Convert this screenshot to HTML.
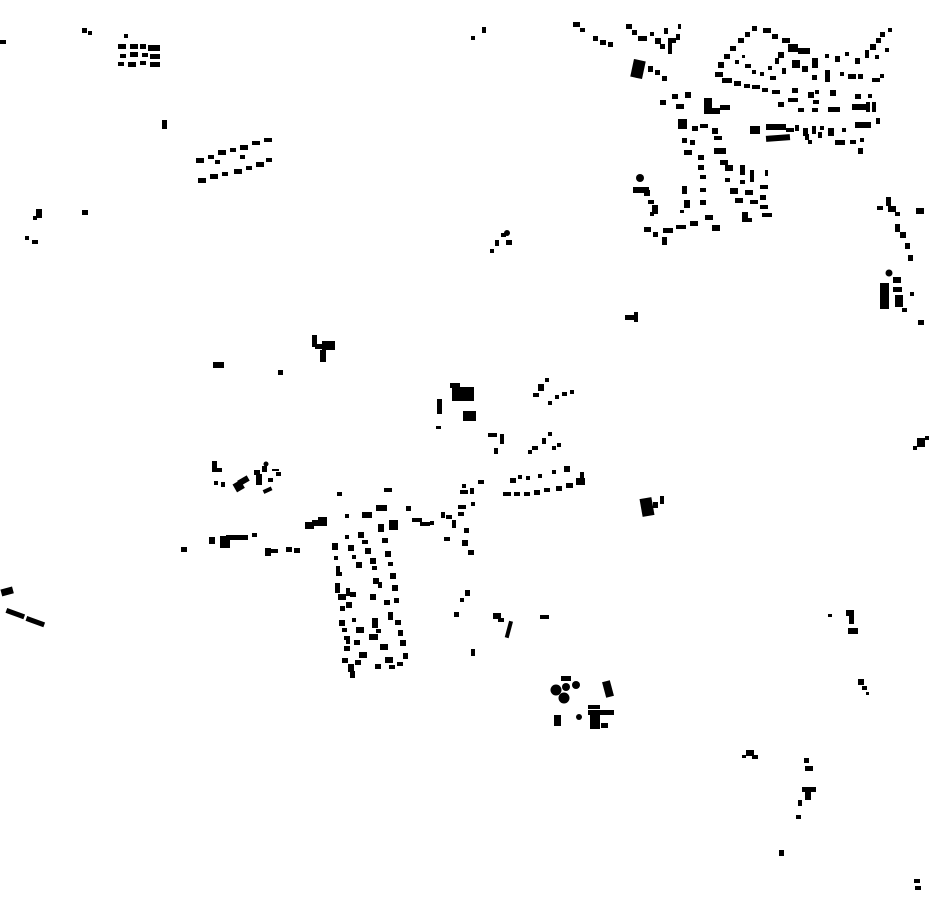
<!DOCTYPE html>
<html><head><meta charset="utf-8"><style>html,body{margin:0;padding:0;background:#fff}svg{display:block}</style></head>
<body>
<svg width="930" height="924" viewBox="0 0 930 924" xmlns="http://www.w3.org/2000/svg">
<g fill="#000">
<!-- top left -->
<rect x="0" y="40" width="6" height="4"/>
<rect x="82" y="28" width="5" height="5"/><rect x="88" y="31" width="4" height="4"/>
<rect x="124" y="34" width="4" height="4"/><rect x="118" y="44" width="8" height="5"/><rect x="130" y="44" width="8" height="5"/><rect x="140" y="44" width="6" height="5"/><rect x="148" y="45" width="12" height="6"/><rect x="120" y="54" width="6" height="4"/><rect x="130" y="52" width="8" height="5"/><rect x="142" y="53" width="6" height="4"/><rect x="150" y="54" width="10" height="5"/><rect x="118" y="62" width="6" height="4"/><rect x="128" y="62" width="8" height="5"/><rect x="140" y="61" width="6" height="4"/><rect x="150" y="62" width="10" height="5"/>
<rect x="162" y="120" width="5" height="9"/>
<rect x="196" y="158" width="8" height="5"/><rect x="208" y="155" width="6" height="4"/><rect x="218" y="150" width="8" height="5"/><rect x="230" y="148" width="6" height="4"/><rect x="240" y="145" width="8" height="5"/><rect x="252" y="141" width="8" height="4"/><rect x="264" y="138" width="8" height="4"/>
<rect x="198" y="178" width="8" height="5"/><rect x="210" y="174" width="8" height="5"/><rect x="222" y="172" width="6" height="4"/><rect x="234" y="169" width="8" height="5"/><rect x="246" y="166" width="6" height="4"/><rect x="256" y="162" width="8" height="5"/><rect x="266" y="158" width="6" height="4"/><rect x="215" y="160" width="5" height="4"/><rect x="240" y="155" width="5" height="4"/>
<rect x="36" y="209" width="6" height="9"/><rect x="33" y="216" width="4" height="4"/>
<rect x="82" y="210" width="6" height="5"/>
<rect x="25" y="236" width="4" height="4"/><rect x="32" y="240" width="6" height="4"/>
<rect x="471" y="36" width="4" height="4"/><rect x="482" y="27" width="4" height="6"/>
<rect x="495" y="240" width="4" height="6"/><rect x="501" y="233" width="5" height="4"/><circle cx="507" cy="233" r="3"/><rect x="506" y="240" width="6" height="5"/><rect x="490" y="249" width="4" height="4"/>
<rect x="625" y="315" width="10" height="5"/><rect x="634" y="312" width="4" height="10"/>
<rect x="213" y="362" width="11" height="6"/><rect x="278" y="370" width="5" height="5"/>
<rect x="312" y="335" width="5" height="12"/><rect x="315" y="344" width="8" height="5"/><rect x="322" y="341" width="13" height="9"/><rect x="320" y="350" width="6" height="12"/>
<!-- top right -->
<rect x="573" y="22" width="7" height="5"/><rect x="580" y="28" width="5" height="4"/><rect x="593" y="36" width="5" height="5"/><rect x="600" y="40" width="6" height="5"/><rect x="608" y="42" width="5" height="5"/>
<rect x="626" y="24" width="6" height="5"/><rect x="632" y="30" width="5" height="5"/><rect x="638" y="36" width="9" height="5"/><rect x="650" y="32" width="4" height="4"/><rect x="655" y="38" width="6" height="6"/><rect x="660" y="44" width="5" height="5"/><rect x="664" y="28" width="4" height="6"/><rect x="668" y="38" width="8" height="5"/><rect x="668" y="42" width="4" height="12"/><rect x="676" y="34" width="4" height="6"/><rect x="678" y="24" width="3" height="5"/>
<rect x="632" y="60" width="12" height="18" transform="rotate(12 638 69)"/><rect x="648" y="66" width="5" height="6"/><rect x="655" y="70" width="5" height="5"/><rect x="662" y="76" width="5" height="5"/>
<rect x="660" y="100" width="6" height="5"/><rect x="672" y="94" width="6" height="5"/><rect x="685" y="92" width="6" height="6"/><rect x="676" y="104" width="8" height="5"/><rect x="704" y="98" width="8" height="16"/><rect x="704" y="108" width="16" height="6"/><rect x="720" y="105" width="10" height="5"/>
<rect x="678" y="119" width="9" height="10"/><rect x="692" y="126" width="6" height="5"/><rect x="682" y="138" width="5" height="5"/>
<rect x="700" y="124" width="8" height="4"/><rect x="712" y="128" width="6" height="6"/><rect x="714" y="136" width="8" height="4"/><rect x="714" y="148" width="12" height="6"/><rect x="720" y="160" width="8" height="5"/>
<rect x="684" y="150" width="8" height="5"/><rect x="690" y="140" width="5" height="5"/>
<rect x="698" y="155" width="6" height="5"/><rect x="698" y="165" width="6" height="5"/><rect x="700" y="175" width="6" height="4"/><rect x="700" y="188" width="6" height="4"/><rect x="700" y="200" width="6" height="5"/><rect x="705" y="215" width="8" height="5"/><rect x="712" y="225" width="8" height="6"/>
<rect x="725" y="165" width="8" height="6"/><rect x="725" y="178" width="5" height="4"/><rect x="730" y="188" width="8" height="6"/><rect x="735" y="198" width="8" height="5"/><rect x="742" y="212" width="6" height="6"/><rect x="740" y="165" width="5" height="10"/><rect x="750" y="170" width="4" height="12"/>
<rect x="740" y="180" width="5" height="4"/><rect x="745" y="190" width="8" height="5"/><rect x="750" y="200" width="8" height="4"/><rect x="742" y="218" width="10" height="4"/>
<rect x="760" y="185" width="8" height="4"/><rect x="760" y="195" width="6" height="5"/><rect x="760" y="205" width="8" height="4"/><rect x="762" y="213" width="10" height="4"/><rect x="765" y="170" width="3" height="6"/>
<rect x="682" y="186" width="5" height="8"/><rect x="684" y="200" width="6" height="8"/><rect x="680" y="210" width="4" height="3"/>
<circle cx="640" cy="178" r="4"/><rect x="633" y="187" width="16" height="6"/><rect x="644" y="190" width="6" height="6"/><rect x="648" y="200" width="6" height="4"/><rect x="652" y="205" width="6" height="9"/><rect x="650" y="212" width="4" height="4"/>
<rect x="644" y="227" width="7" height="5"/><rect x="653" y="232" width="5" height="5"/><rect x="663" y="228" width="10" height="5"/><rect x="676" y="225" width="10" height="4"/><rect x="690" y="221" width="8" height="5"/><rect x="662" y="237" width="5" height="8"/>
<rect x="715" y="72" width="8" height="5"/><rect x="718" y="62" width="6" height="6"/><rect x="724" y="54" width="6" height="5"/><rect x="730" y="46" width="6" height="5"/><rect x="738" y="38" width="6" height="5"/><rect x="745" y="32" width="5" height="5"/><rect x="752" y="26" width="5" height="5"/>
<rect x="763" y="28" width="8" height="5"/><rect x="772" y="34" width="6" height="5"/><rect x="782" y="38" width="8" height="5"/><rect x="788" y="44" width="10" height="8"/><rect x="798" y="48" width="12" height="6"/><rect x="778" y="52" width="6" height="6"/><rect x="792" y="60" width="8" height="8"/><rect x="802" y="66" width="6" height="6"/>
<rect x="735" y="60" width="4" height="4"/><rect x="742" y="55" width="3" height="3"/><rect x="745" y="64" width="6" height="4"/><rect x="752" y="70" width="4" height="4"/><rect x="760" y="72" width="4" height="4"/><rect x="768" y="66" width="4" height="4"/><rect x="770" y="76" width="6" height="4"/><rect x="775" y="58" width="4" height="6"/><rect x="782" y="68" width="4" height="6"/>
<rect x="722" y="78" width="10" height="5"/><rect x="734" y="81" width="7" height="5"/><rect x="744" y="84" width="6" height="4"/><rect x="752" y="85" width="8" height="4"/><rect x="762" y="88" width="6" height="4"/><rect x="772" y="90" width="8" height="4"/>
<rect x="812" y="58" width="6" height="10"/><rect x="825" y="54" width="4" height="4"/><rect x="835" y="56" width="5" height="6"/><rect x="845" y="52" width="4" height="4"/><rect x="855" y="58" width="5" height="6"/><rect x="865" y="50" width="4" height="8"/><rect x="870" y="44" width="6" height="6"/><rect x="876" y="38" width="5" height="5"/><rect x="880" y="32" width="5" height="5"/><rect x="888" y="28" width="4" height="4"/><rect x="885" y="48" width="4" height="4"/><rect x="875" y="55" width="4" height="4"/>
<rect x="812" y="75" width="5" height="5"/><rect x="825" y="70" width="5" height="12"/><rect x="840" y="72" width="4" height="4"/><rect x="848" y="74" width="8" height="5"/><rect x="858" y="74" width="5" height="5"/><rect x="872" y="78" width="8" height="4"/><rect x="880" y="74" width="4" height="4"/>
<rect x="792" y="88" width="6" height="5"/><rect x="808" y="92" width="6" height="6"/><rect x="815" y="90" width="4" height="4"/><rect x="830" y="90" width="6" height="6"/><rect x="855" y="94" width="6" height="5"/><rect x="868" y="94" width="4" height="4"/>
<rect x="788" y="98" width="10" height="4"/><rect x="813" y="100" width="6" height="4"/><rect x="812" y="108" width="6" height="4"/><rect x="828" y="107" width="12" height="5"/><rect x="852" y="104" width="14" height="6"/><rect x="866" y="102" width="4" height="10"/><rect x="872" y="102" width="4" height="10"/>
<rect x="778" y="102" width="6" height="5"/><rect x="798" y="108" width="6" height="4"/>
<rect x="750" y="126" width="10" height="8"/><rect x="766" y="124" width="20" height="6"/><rect x="766" y="135" width="24" height="6" transform="rotate(-4 778 138)"/><rect x="786" y="128" width="8" height="4"/><rect x="795" y="125" width="4" height="6"/><rect x="803" y="128" width="5" height="8"/><rect x="812" y="126" width="4" height="8"/><rect x="820" y="126" width="4" height="4"/><rect x="828" y="128" width="6" height="8"/><rect x="842" y="128" width="4" height="4"/><rect x="855" y="122" width="16" height="6"/><rect x="876" y="118" width="4" height="6"/>
<rect x="835" y="140" width="10" height="5"/><rect x="850" y="140" width="6" height="4"/><rect x="860" y="138" width="4" height="4"/><rect x="858" y="148" width="5" height="6"/><rect x="805" y="134" width="4" height="6"/><rect x="808" y="140" width="4" height="4"/><rect x="818" y="132" width="4" height="6"/>
<rect x="877" y="206" width="6" height="4"/><rect x="886" y="197" width="5" height="9"/><rect x="888" y="206" width="8" height="6"/><rect x="895" y="212" width="5" height="4"/><rect x="916" y="208" width="8" height="6"/><rect x="895" y="224" width="5" height="8"/><rect x="900" y="232" width="6" height="6"/><rect x="905" y="243" width="5" height="6"/><rect x="908" y="255" width="5" height="6"/>
<circle cx="889" cy="273" r="3.5"/><rect x="880" y="283" width="9" height="26"/><rect x="893" y="277" width="8" height="6"/><rect x="893" y="287" width="9" height="5"/><rect x="895" y="295" width="8" height="12"/><rect x="910" y="292" width="4" height="4"/><rect x="918" y="320" width="6" height="5"/><rect x="902" y="308" width="5" height="4"/>
<!-- middle -->
<rect x="450" y="383" width="10" height="5"/><rect x="452" y="387" width="22" height="14"/><rect x="437" y="399" width="5" height="15"/><rect x="463" y="411" width="13" height="10"/><rect x="436" y="426" width="5" height="3"/>
<rect x="538" y="384" width="6" height="7"/><rect x="545" y="378" width="4" height="4"/><rect x="533" y="393" width="6" height="4"/><rect x="555" y="395" width="4" height="4"/><rect x="562" y="392" width="5" height="4"/><rect x="570" y="390" width="4" height="4"/><rect x="548" y="401" width="4" height="4"/>
<rect x="488" y="433" width="9" height="4"/><rect x="500" y="434" width="4" height="10"/><rect x="494" y="448" width="4" height="6"/><rect x="548" y="432" width="4" height="4"/><rect x="542" y="438" width="4" height="6"/><rect x="532" y="446" width="6" height="4"/><rect x="528" y="450" width="4" height="4"/><rect x="552" y="446" width="4" height="4"/><rect x="557" y="443" width="4" height="4"/>
<rect x="510" y="478" width="6" height="5"/><rect x="518" y="475" width="4" height="4"/><rect x="526" y="476" width="4" height="4"/><rect x="538" y="474" width="4" height="4"/><rect x="552" y="470" width="4" height="4"/><rect x="564" y="466" width="6" height="6"/><rect x="580" y="472" width="4" height="6"/>
<rect x="503" y="492" width="8" height="4"/><rect x="514" y="492" width="6" height="4"/><rect x="524" y="492" width="6" height="4"/><rect x="534" y="490" width="6" height="5"/><rect x="544" y="488" width="6" height="4"/><rect x="556" y="486" width="6" height="5"/><rect x="566" y="483" width="7" height="5"/><rect x="576" y="478" width="9" height="7"/>
<rect x="212" y="461" width="5" height="11"/><rect x="216" y="468" width="6" height="4"/><rect x="214" y="481" width="4" height="4"/><rect x="221" y="482" width="4" height="5"/><rect x="234" y="482" width="9" height="9" transform="rotate(-30 238 486)"/><rect x="238" y="478" width="11" height="6" transform="rotate(-30 243 481)"/><rect x="254" y="470" width="6" height="5"/><rect x="256" y="474" width="6" height="11"/><rect x="262" y="466" width="5" height="6"/><rect x="268" y="478" width="5" height="4"/><rect x="263" y="488" width="9" height="4" transform="rotate(-25 268 490)"/><rect x="276" y="472" width="5" height="4"/><circle cx="266" cy="464" r="2.5"/><rect x="272" y="469" width="7" height="2"/>
<rect x="181" y="547" width="6" height="5"/><rect x="209" y="537" width="6" height="7"/><rect x="220" y="536" width="10" height="12"/><rect x="226" y="535" width="22" height="5"/><rect x="252" y="533" width="5" height="4"/>
<rect x="265" y="548" width="6" height="8"/><rect x="270" y="549" width="8" height="4"/><rect x="286" y="547" width="6" height="5"/><rect x="294" y="548" width="6" height="5"/>
<rect x="305" y="522" width="9" height="7"/><rect x="312" y="520" width="6" height="6"/><rect x="318" y="517" width="9" height="9"/>
<rect x="337" y="492" width="5" height="4"/><rect x="345" y="514" width="4" height="4"/><rect x="362" y="512" width="10" height="6"/><rect x="376" y="505" width="11" height="6"/><rect x="389" y="520" width="9" height="10"/><rect x="384" y="488" width="8" height="4"/><rect x="406" y="506" width="5" height="5"/><rect x="412" y="518" width="10" height="4"/><rect x="420" y="522" width="10" height="4"/><rect x="430" y="521" width="4" height="4"/><rect x="441" y="512" width="4" height="6"/><rect x="446" y="515" width="6" height="4"/><rect x="444" y="537" width="6" height="4"/><rect x="452" y="520" width="4" height="8"/>
<rect x="462" y="484" width="4" height="4"/><rect x="460" y="490" width="8" height="4"/><rect x="470" y="488" width="4" height="6"/><rect x="478" y="480" width="6" height="4"/><rect x="458" y="505" width="8" height="4"/><rect x="458" y="512" width="6" height="4"/><rect x="471" y="502" width="4" height="4"/>
<rect x="464" y="528" width="5" height="5"/><rect x="462" y="540" width="6" height="6"/><rect x="468" y="550" width="6" height="5"/>
<!-- residential loop -->
<rect x="332" y="543" width="6" height="7"/><rect x="334" y="556" width="4" height="4"/><rect x="336" y="566" width="4" height="8"/><rect x="336" y="572" width="6" height="4"/><rect x="335" y="583" width="5" height="10"/><rect x="338" y="594" width="8" height="6"/><rect x="340" y="606" width="5" height="5"/><rect x="339" y="620" width="6" height="6"/><rect x="342" y="628" width="5" height="4"/><rect x="344" y="636" width="6" height="4"/><rect x="346" y="640" width="4" height="4"/><rect x="344" y="646" width="6" height="5"/><rect x="342" y="658" width="6" height="5"/><rect x="348" y="664" width="6" height="8"/><rect x="350" y="671" width="5" height="7"/>
<rect x="345" y="535" width="4" height="4"/><rect x="348" y="545" width="6" height="6"/><rect x="352" y="555" width="4" height="4"/><rect x="356" y="562" width="6" height="6"/><rect x="346" y="588" width="4" height="8"/><rect x="350" y="592" width="6" height="5"/><rect x="346" y="602" width="6" height="6"/><rect x="352" y="618" width="4" height="4"/><rect x="356" y="627" width="8" height="6"/><rect x="354" y="640" width="6" height="5"/><rect x="359" y="652" width="8" height="6"/><rect x="355" y="660" width="6" height="5"/>
<rect x="358" y="532" width="6" height="6"/><rect x="362" y="540" width="6" height="4"/><rect x="365" y="548" width="6" height="6"/><rect x="370" y="558" width="6" height="6"/><rect x="372" y="566" width="5" height="4"/><rect x="373" y="578" width="6" height="6"/><rect x="370" y="594" width="6" height="6"/><rect x="378" y="582" width="4" height="6"/><rect x="372" y="618" width="6" height="10"/><rect x="369" y="634" width="9" height="6"/><rect x="376" y="629" width="5" height="4"/><rect x="380" y="644" width="8" height="6"/><rect x="385" y="657" width="8" height="6"/>
<rect x="378" y="524" width="6" height="8"/><rect x="382" y="538" width="6" height="5"/><rect x="385" y="551" width="6" height="6"/><rect x="388" y="562" width="5" height="4"/><rect x="390" y="573" width="6" height="6"/><rect x="392" y="585" width="6" height="6"/><rect x="394" y="598" width="5" height="5"/><rect x="384" y="600" width="6" height="5"/><rect x="388" y="612" width="5" height="8"/><rect x="395" y="620" width="6" height="5"/><rect x="398" y="630" width="5" height="6"/><rect x="400" y="640" width="6" height="6"/><rect x="403" y="653" width="5" height="6"/><rect x="397" y="662" width="6" height="4"/><rect x="389" y="665" width="6" height="4"/><rect x="375" y="664" width="6" height="5"/>
<rect x="465" y="590" width="5" height="6"/><rect x="460" y="598" width="4" height="4"/><rect x="454" y="612" width="5" height="5"/>
<rect x="493" y="613" width="8" height="6"/><rect x="498" y="618" width="6" height="4"/><rect x="507" y="621" width="4" height="17" transform="rotate(15 509 629)"/><rect x="540" y="615" width="9" height="4"/><rect x="471" y="649" width="4" height="7"/>
<!-- south cluster -->
<circle cx="556" cy="690" r="5.5"/><circle cx="566" cy="687" r="4"/><circle cx="576" cy="685" r="4"/><circle cx="564" cy="698" r="5.5"/><rect x="561" y="676" width="10" height="5"/><rect x="554" y="715" width="7" height="11"/><circle cx="579" cy="717" r="3"/><rect x="604" y="681" width="8" height="16" transform="rotate(-15 608 689)"/><rect x="588" y="705" width="12" height="4"/><rect x="588" y="710" width="26" height="5"/><rect x="590" y="712" width="10" height="17"/><rect x="601" y="723" width="7" height="5"/>
<rect x="641" y="498" width="12" height="18" transform="rotate(-10 647 507)"/><rect x="653" y="502" width="5" height="6"/><rect x="660" y="496" width="4" height="8"/>
<!-- lower right -->
<rect x="828" y="614" width="4" height="3"/><rect x="846" y="610" width="8" height="6"/><rect x="849" y="616" width="5" height="8"/><rect x="848" y="628" width="10" height="6"/><rect x="858" y="679" width="6" height="6"/><rect x="862" y="686" width="5" height="4"/><rect x="866" y="692" width="3" height="3"/>
<rect x="746" y="750" width="8" height="6"/><rect x="752" y="755" width="6" height="4"/><rect x="742" y="755" width="4" height="3"/>
<rect x="804" y="758" width="5" height="5"/><rect x="805" y="766" width="8" height="5"/><rect x="802" y="787" width="14" height="5"/><rect x="805" y="790" width="6" height="10"/><rect x="798" y="800" width="4" height="6"/><rect x="796" y="815" width="5" height="4"/><rect x="779" y="850" width="5" height="6"/>
<rect x="914" y="879" width="6" height="4"/><rect x="915" y="886" width="6" height="4"/>
<rect x="917" y="438" width="8" height="9"/><rect x="913" y="446" width="4" height="4"/><rect x="925" y="436" width="4" height="4"/>
<!-- far left -->
<rect x="1" y="588" width="12" height="7" transform="rotate(-15 7 591)"/><rect x="6" y="611" width="19" height="5" transform="rotate(20 15 613)"/><rect x="26" y="619" width="19" height="5" transform="rotate(20 35 621)"/>
</g>
</svg>
</body></html>
